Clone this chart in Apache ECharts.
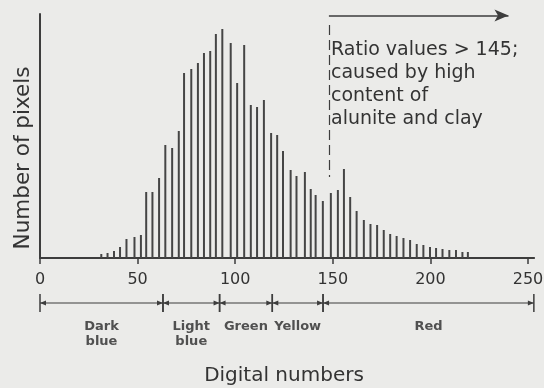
<!DOCTYPE html>
<html>
<head>
<meta charset="utf-8">
<script src="https://cdn.jsdelivr.net/npm/echarts@6/dist/echarts.min.js"></script>
<style>
  html, body { margin: 0; padding: 0; background: #ebebe9; }
  #chart { width: 544px; height: 388px; }
</style>
</head>
<body>
<div id="chart"></div>
<script>
// histogram bins (digital number) and bar heights (relative pixel counts)
var digitalNumbers = [31.4, 34.6, 37.9, 41.0, 44.3, 48.4, 51.7, 54.4, 57.6, 61.0,
    64.2, 67.7, 71.1, 73.8, 77.5, 80.9, 84.0, 87.2, 90.1, 93.4,
    97.7, 101.0, 104.6, 108.0, 111.2, 114.7, 118.4, 121.5, 124.5, 128.4,
    131.4, 135.7, 138.7, 141.2, 144.9, 149.0, 152.6, 155.7, 158.9, 162.2,
    165.9, 169.3, 172.7, 176.1, 179.4, 182.7, 186.2, 189.6, 193.0, 196.4,
    199.8, 202.9, 206.2, 209.7, 213.1, 216.4, 219.2];
var pixelCounts = [4, 5, 7, 11, 19, 21, 23, 66, 66, 80,
    113, 110, 127, 185, 189, 195, 205, 207, 224, 229,
    215, 175, 213, 153, 151, 158, 125, 123, 107, 88,
    82, 86, 69, 63, 57, 65, 68, 89, 61, 47,
    38, 34, 33, 28, 24, 22, 20, 18, 14, 13,
    11, 10, 9, 8, 8, 6, 6];

// colour classes along the DN axis
var classBounds = [0, 63, 92, 119, 145, 253];
var classNames = ['Dark\nblue', 'Light\nblue', 'Green', 'Yellow', 'Red'];

// annotation (line is drawn a bit right of 145 in the original)
var markerDN = 148;
var arrowEnd = 240;
var noteText = 'Ratio values > 145;\ncaused by high\ncontent of\nalunite and clay';

var ink = '#3d3d3d';
var fontFam = '"DejaVu Sans", Verdana, sans-serif';

var chart = echarts.init(document.getElementById('chart'));

var barData = digitalNumbers.map(function (d, i) { return [d, pixelCounts[i]]; });
var classData = classNames.map(function (n, i) { return [classBounds[i], classBounds[i + 1], i]; });

function renderClass(params, api) {
    var s = api.value(0), e = api.value(1), idx = api.value(2);
    var p1 = api.coord([s, 0]);
    var p2 = api.coord([e, 0]);
    var y = p1[1] + 45;
    var children = [
        { type: 'line', shape: { x1: p1[0], y1: y, x2: p2[0], y2: y }, style: { stroke: ink, lineWidth: 1.2 } },
        { type: 'polygon', shape: { points: [[p1[0], y], [p1[0] + 6, y - 2.5], [p1[0] + 6, y + 2.5]] }, style: { fill: ink } },
        { type: 'polygon', shape: { points: [[p2[0], y], [p2[0] - 6, y - 2.5], [p2[0] - 6, y + 2.5]] }, style: { fill: ink } },
        { type: 'line', shape: { x1: p1[0], y1: y - 9, x2: p1[0], y2: y + 9 }, style: { stroke: ink, lineWidth: 1.5 } },
        { type: 'line', shape: { x1: p2[0], y1: y - 9, x2: p2[0], y2: y + 9 }, style: { stroke: ink, lineWidth: 1.5 } },
        {
            type: 'text',
            style: {
                x: (p1[0] + p2[0]) / 2, y: y + 16,
                text: classNames[idx],
                align: 'center', verticalAlign: 'top',
                font: 'bold 13px ' + fontFam, lineHeight: 15,
                fill: '#505050'
            }
        }
    ];
    if (idx === classNames.length - 1) {
        // axis line runs on a little past 250
        var pe = api.coord([250, 0]);
        children.push({ type: 'line', shape: { x1: pe[0], y1: pe[1], x2: p2[0] + 1, y2: pe[1] }, style: { stroke: ink, lineWidth: 2 } });
    }
    return { type: 'group', children: children };
}

var option = {
    backgroundColor: '#ebebe9',
    animation: false,
    grid: { left: 40, right: 16, top: 14, bottom: 130, outerBoundsMode: 'none' },
    xAxis: {
        type: 'value',
        min: 0, max: 250, interval: 50,
        name: 'Digital numbers',
        nameLocation: 'middle',
        nameGap: 108,
        nameTextStyle: { fontFamily: fontFam, fontSize: 20, color: '#333' },
        axisLine: { lineStyle: { color: ink, width: 2 } },
        axisTick: { show: true, length: 6, lineStyle: { color: ink, width: 1.5 } },
        axisLabel: { fontFamily: fontFam, fontSize: 16, color: '#333', margin: 14 },
        splitLine: { show: false }
    },
    yAxis: {
        type: 'value',
        min: 0, max: 244,
        axisLine: { show: true, lineStyle: { color: ink, width: 2 } },
        axisTick: { show: false },
        axisLabel: { show: false },
        splitLine: { show: false }
    },
    graphic: [
        {
            type: 'text', left: 331, top: 39, silent: true,
            style: { text: noteText, font: '19px ' + fontFam, lineHeight: 23, fill: '#333' }
        },
        {
            type: 'text', x: 23, y: 158, rotation: Math.PI / 2, silent: true,
            style: { text: 'Number of pixels', font: '21.5px ' + fontFam, fill: '#333', align: 'center', verticalAlign: 'middle' }
        }
    ],
    series: [
        {
            type: 'bar',
            data: barData,
            barWidth: 2,
            itemStyle: { color: '#454545' },
            markLine: {
                silent: true,
                symbol: 'none',
                label: { show: false },
                data: [
                    [
                        { coord: [markerDN, 233], lineStyle: { type: [10, 5], color: ink, width: 1.2 } },
                        { coord: [markerDN, 81] }
                    ],
                    [
                        { coord: [markerDN, 242.5], symbol: 'none', lineStyle: { type: 'solid', color: ink, width: 1.5 } },
                        { coord: [arrowEnd, 242.5], symbol: 'arrow', symbolSize: [9, 14] }
                    ]
                ]
            }
        },
        {
            type: 'custom',
            data: classData,
            renderItem: renderClass,
            clip: false,
            silent: true,
            encode: { x: [0, 1] }
        }
    ]
};

chart.setOption(option);
</script>
</body>
</html>
